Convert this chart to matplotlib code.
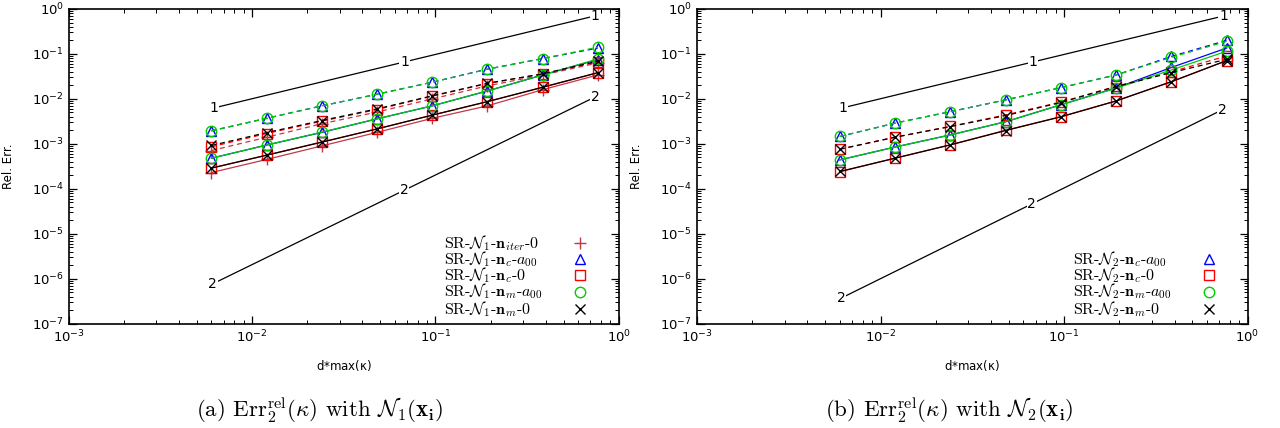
import matplotlib
matplotlib.use("Agg")
import matplotlib.pyplot as plt

plt.rcParams['mathtext.fontset'] = 'cm'
plt.rcParams['font.size'] = 9

# data
x_vals = [0.006, 0.012, 0.024, 0.048, 0.096, 0.192, 0.384, 0.768]

# panel (a): N1
n1_iter_solid = [2.3e-4, 4.5e-4, 9.0e-4, 1.8e-3, 3.7e-3, 7.0e-3, 1.6e-2, 3.4e-2]
n1_iter_dash = [7.1e-4, 1.4e-3, 2.8e-3, 5.1e-3, 1.0e-2, 1.95e-2, 3.4e-2, 6.3e-2]
n1_nc_a00_solid = [4.8e-4, 9.4e-4, 1.8e-3, 3.6e-3, 7.0e-3, 1.5e-2, 3.4e-2, 7.5e-2]
n1_nc_a00_dash = [1.95e-3, 3.7e-3, 7.0e-3, 1.27e-2, 2.35e-2, 4.6e-2, 7.9e-2, 1.35e-1]
n1_nc_0_solid = [2.9e-4, 5.6e-4, 1.1e-3, 2.15e-3, 4.35e-3, 8.7e-3, 1.8e-2, 3.8e-2]
n1_nc_0_dash = [8.6e-4, 1.7e-3, 3.2e-3, 5.8e-3, 1.15e-2, 2.2e-2, 3.6e-2, 6.6e-2]
n1_nm_a00_solid = [4.8e-4, 9.4e-4, 1.82e-3, 3.6e-3, 7.0e-3, 1.51e-2, 3.41e-2, 7.7e-2]
n1_nm_a00_dash = [1.95e-3, 3.7e-3, 7.0e-3, 1.27e-2, 2.35e-2, 4.57e-2, 7.87e-2, 1.41e-1]
n1_nm_0_solid = [2.88e-4, 5.6e-4, 1.09e-3, 2.15e-3, 4.35e-3, 8.7e-3, 1.82e-2, 3.84e-2]
n1_nm_0_dash = [9.2e-4, 1.78e-3, 3.3e-3, 6.0e-3, 1.17e-2, 2.23e-2, 3.6e-2, 6.9e-2]

# panel (b): N2
n2_nc_a00_solid = [4.4e-4, 8.5e-4, 1.58e-3, 3.1e-3, 7.4e-3, 1.75e-2, 5.0e-2, 1.35e-1]
n2_nc_a00_dash = [1.46e-3, 2.9e-3, 5.2e-3, 9.5e-3, 1.78e-2, 3.4e-2, 8.8e-2, 2.0e-1]
n2_nc_0_solid = [2.4e-4, 4.8e-4, 9.5e-4, 2.0e-3, 4.0e-3, 9.0e-3, 2.4e-2, 7.1e-2]
n2_nc_0_dash = [7.6e-4, 1.4e-3, 2.45e-3, 4.4e-3, 8.5e-3, 1.9e-2, 4.0e-2, 9.0e-2]
n2_nm_a00_solid = [4.4e-4, 8.5e-4, 1.58e-3, 3.1e-3, 7.4e-3, 1.73e-2, 4.4e-2, 1.15e-1]
n2_nm_a00_dash = [1.46e-3, 2.88e-3, 5.2e-3, 9.5e-3, 1.78e-2, 3.4e-2, 8.4e-2, 1.9e-1]
n2_nm_0_solid = [2.43e-4, 4.8e-4, 9.5e-4, 1.98e-3, 4.0e-3, 9.0e-3, 2.42e-2, 7.1e-2]
n2_nm_0_dash = [7.6e-4, 1.41e-3, 2.42e-3, 4.26e-3, 8.3e-3, 1.88e-2, 3.84e-2, 7.6e-2]

# reference slope lines (end points)
ref1_x = [0.0062, 0.74]
ref1_y = [0.0063, 0.70]
ref2a_x = [0.0061, 0.745]
ref2a_y = [7.7e-7, 1.11e-2]
ref2b_x = [0.0061, 0.726]
ref2b_y = [3.7e-7, 5.7e-3]

labels_a = [r'SR-$\mathcal{N}_1$-$\mathbf{n}_{iter}$-0',
            r'SR-$\mathcal{N}_1$-$\mathbf{n}_c$-$a_{00}$',
            r'SR-$\mathcal{N}_1$-$\mathbf{n}_c$-0',
            r'SR-$\mathcal{N}_1$-$\mathbf{n}_m$-$a_{00}$',
            r'SR-$\mathcal{N}_1$-$\mathbf{n}_m$-0']
labels_b = [r'SR-$\mathcal{N}_2$-$\mathbf{n}_c$-$a_{00}$',
            r'SR-$\mathcal{N}_2$-$\mathbf{n}_c$-0',
            r'SR-$\mathcal{N}_2$-$\mathbf{n}_m$-$a_{00}$',
            r'SR-$\mathcal{N}_2$-$\mathbf{n}_m$-0']

styles = {
    'iter': dict(color='#c03848', marker='+', ms=8, mew=1.0),
    'nc_a00': dict(color='#0000ff', marker='^', ms=7, mew=1.0, mfc='none'),
    'nc_0': dict(color='#ff0000', marker='s', ms=7, mew=1.0, mfc='none'),
    'nm_a00': dict(color='#00cc00', marker='o', ms=7.5, mew=1.0, mfc='none'),
    'nm_0': dict(color='#000000', marker='x', ms=7, mew=1.0),
}

series_a = [('iter', n1_iter_solid, n1_iter_dash),
            ('nc_a00', n1_nc_a00_solid, n1_nc_a00_dash),
            ('nc_0', n1_nc_0_solid, n1_nc_0_dash),
            ('nm_a00', n1_nm_a00_solid, n1_nm_a00_dash),
            ('nm_0', n1_nm_0_solid, n1_nm_0_dash)]
series_b = [('nc_a00', n2_nc_a00_solid, n2_nc_a00_dash),
            ('nc_0', n2_nc_0_solid, n2_nc_0_dash),
            ('nm_a00', n2_nm_a00_solid, n2_nm_a00_dash),
            ('nm_0', n2_nm_0_solid, n2_nm_0_dash)]


def ref_line(ax, xs, ys, txt):
    ax.plot(xs, ys, color='k', lw=0.9, zorder=1)
    xm = (xs[0] * xs[1]) ** 0.5
    ym = (ys[0] * ys[1]) ** 0.5
    for xx, yy in [(xs[0], ys[0]), (xm, ym), (xs[1], ys[1])]:
        ax.text(xx, yy, txt, ha='center', va='center', fontsize=10, zorder=2,
                bbox=dict(facecolor='white', edgecolor='none', pad=0.5))


def draw_panel(ax, series, labels, ref2_x, ref2_y, caption, cap_x):
    ax.set_xscale('log')
    ax.set_yscale('log')
    ax.set_xlim(1e-3, 1)
    ax.set_ylim(1e-7, 1)

    ref_line(ax, ref1_x, ref1_y, '1')
    ref_line(ax, ref2_x, ref2_y, '2')

    for key, ys, yd in series:
        st = styles[key]
        ax.plot(x_vals, ys, ls='-', lw=0.9, zorder=3, **st)
        ax.plot(x_vals, yd, ls=(0, (4, 3)), lw=0.9, zorder=3, **st)

    # legend drawn by hand: text left-aligned, markers in a column
    rows = [0.255, 0.204, 0.154, 0.102, 0.047]
    rows = rows[len(rows) - len(labels):]
    keys = [s[0] for s in series]
    for lab, key, yy in zip(labels, keys, rows):
        ax.text(0.682, yy, lab, transform=ax.transAxes, ha='left', va='center',
                fontsize=11.5, family='cmr10')
        ax.plot([0.93], [yy], transform=ax.transAxes, clip_on=False,
                ls='none', **styles[key])

    ax.tick_params(which='both', direction='in', top=True, right=True)
    ax.tick_params(which='major', length=6, width=0.9, labelsize=9.5)
    ax.tick_params(which='minor', length=3, width=0.7)
    for sp in ax.spines.values():
        sp.set_linewidth(1.2)

    ax.set_xlabel(r'd*max($\mathregular{\kappa}$)', fontsize=8.5)
    ax.xaxis.label.set_va('center')
    ax.xaxis.set_label_coords(0.5, -0.134)
    ax.set_ylabel('Rel. Err.', fontsize=8.5)
    ax.yaxis.set_label_coords(-0.098, 0.5)

    fig.text(cap_x, 0.042, caption, ha='center', va='center',
             fontsize=16.5, family='cmr10')


fig = plt.figure(figsize=(12.8, 4.28), dpi=100)
ax1 = fig.add_axes([0.0537, 0.2437, 0.4297, 0.7353])
ax2 = fig.add_axes([0.5445, 0.2437, 0.4302, 0.7353])

draw_panel(ax1, series_a, labels_a, ref2a_x, ref2a_y,
           r'(a) Err$_2^{\mathrm{rel}}(\kappa)$ with $\mathcal{N}_1(\mathbf{x}_\mathbf{i})$', 0.25)
draw_panel(ax2, series_b, labels_b, ref2b_x, ref2b_y,
           r'(b) Err$_2^{\mathrm{rel}}(\kappa)$ with $\mathcal{N}_2(\mathbf{x}_\mathbf{i})$', 0.742)

fig.savefig('out.png', dpi=100)
